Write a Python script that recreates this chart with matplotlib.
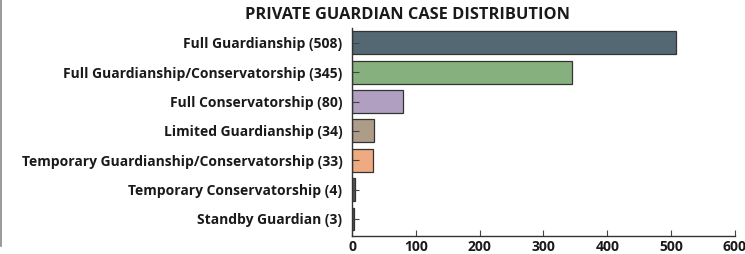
import matplotlib.pyplot as plt
from matplotlib.lines import Line2D

categorias = [
    "Full Guardianship (508)",
    "Full Guardianship/Conservatorship (345)",
    "Full Conservatorship (80)",
    "Limited Guardianship (34)",
    "Temporary Guardianship/Conservatorship (33)",
    "Temporary Conservatorship (4)",
    "Standby Guardian (3)",
]
casos = [508, 345, 80, 34, 33, 4, 3]
cores = ["#546874", "#86b07d", "#b09fc0", "#ac9c88", "#eeaa80", "#555555", "#555555"]
x_ticks = [0, 100, 200, 300, 400, 500, 600]

plt.rcParams['font.family'] = ['Open Sans', 'DejaVu Sans']

fig = plt.figure(figsize=(7.45, 2.54), dpi=100)
ax = fig.add_axes([0.4725, 0.071, 0.514, 0.819])

pos = list(range(len(categorias)))
ax.barh(pos, casos, height=0.78, color=cores, edgecolor="#333333", linewidth=0.9)

ax.set_ylim(6.58, -0.51)
ax.set_xlim(0, 600)
ax.set_yticks(pos)
ax.set_yticklabels(categorias, fontsize=10, fontweight='bold', color='#1a1a1a')
ax.set_xticks(x_ticks)
ax.set_xticklabels([str(t) for t in x_ticks], fontsize=10, fontweight='bold', color='#1a1a1a')
ax.tick_params(axis='y', direction='in', length=5, width=0.8, pad=7, color='#444444')
ax.tick_params(axis='x', direction='in', length=4, width=0.8, pad=3, color='#444444')

for s in ['top', 'right']:
    ax.spines[s].set_visible(False)
for s in ['left', 'bottom']:
    ax.spines[s].set_color('#333333')
    ax.spines[s].set_linewidth(1.0)

fig.text(407 / 745, 1 - 15 / 254, "PRIVATE GUARDIAN CASE DISTRIBUTION",
         ha='center', va='center', fontsize=11.8, fontweight='bold', color='#1a1a1a')

# thin frame line on the left edge
fig.add_artist(Line2D([0.002, 0.002], [0.03, 1.0], transform=fig.transFigure,
                      color='#888888', linewidth=1.2))

plt.savefig("out.png", dpi=100)
